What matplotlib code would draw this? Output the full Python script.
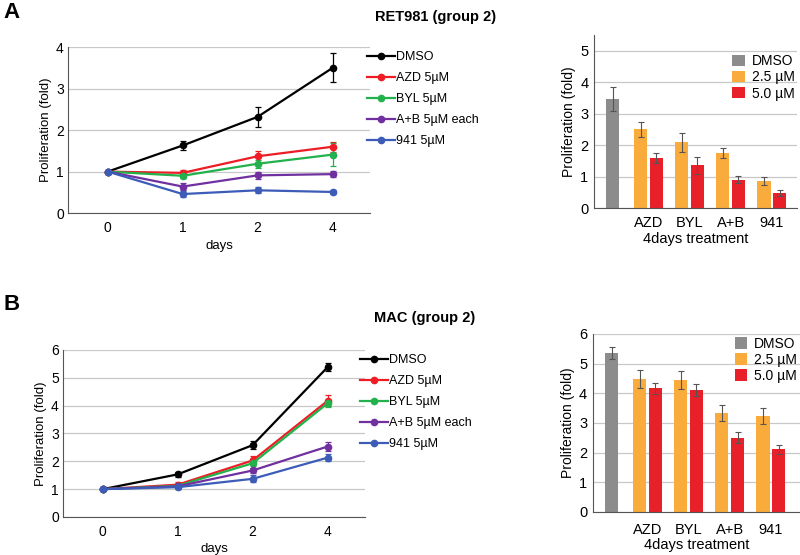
import matplotlib.pyplot as plt

plt.rcParams['font.family'] = ['Liberation Sans', 'DejaVu Sans']

# ---- data ----
day_labels = ["0", "1", "2", "4"]
series_names = ["DMSO", "AZD 5\u00b5M", "BYL 5\u00b5M", "A+B 5\u00b5M each", "941 5\u00b5M"]
series_colors = ["#000000", "#ee1c24", "#22b14c", "#7030a0", "#3c5cb8"]

# panel A (RET981)
a_mean = [
    [1.0, 1.63, 2.32, 3.50],
    [1.0, 0.97, 1.37, 1.60],
    [1.0, 0.90, 1.19, 1.41],
    [1.0, 0.64, 0.91, 0.94],
    [1.0, 0.46, 0.55, 0.51],
]
a_err = [
    [0.0, 0.12, 0.25, 0.35],
    [0.0, 0.08, 0.13, 0.12],
    [0.0, 0.06, 0.10, 0.27],
    [0.0, 0.08, 0.08, 0.08],
    [0.0, 0.07, 0.07, 0.05],
]

# panel B (MAC)
b_mean = [
    [1.0, 1.53, 2.58, 5.38],
    [1.0, 1.16, 2.03, 4.17],
    [1.0, 1.12, 1.93, 4.08],
    [1.0, 1.10, 1.67, 2.53],
    [1.0, 1.07, 1.37, 2.13],
]
b_err = [
    [0.0, 0.10, 0.15, 0.15],
    [0.0, 0.10, 0.15, 0.20],
    [0.0, 0.05, 0.10, 0.12],
    [0.0, 0.05, 0.08, 0.15],
    [0.0, 0.08, 0.12, 0.13],
]

# bar charts, 4 days
treatments = ["AZD", "BYL", "A+B", "941"]
bar_a_dmso, bar_a_dmso_err = 3.48, 0.38
bar_a_low = [2.50, 2.10, 1.75, 0.86]
bar_a_low_err = [0.25, 0.30, 0.17, 0.12]
bar_a_high = [1.60, 1.36, 0.91, 0.47]
bar_a_high_err = [0.15, 0.28, 0.12, 0.10]

bar_b_dmso, bar_b_dmso_err = 5.36, 0.20
bar_b_low = [4.48, 4.44, 3.34, 3.23]
bar_b_low_err = [0.30, 0.30, 0.26, 0.28]
bar_b_high = [4.17, 4.10, 2.50, 2.12]
bar_b_high_err = [0.18, 0.20, 0.18, 0.15]

GRID = "#c8c8c8"
SPINE = "#555555"


def line_panel(ax, means, errs, ymax, legend_pos):
    x = list(range(len(day_labels)))
    handles = []
    for name, col, m, e in zip(series_names, series_colors, means, errs):
        c = ax.errorbar(x, m, yerr=e, color=col, lw=1.6, marker="o", ms=4.5,
                        elinewidth=0.9, capsize=2, capthick=0.9, label=name)
        handles.append(c[0])
    ax.set_xlim(-0.53, 3.5)
    ax.set_ylim(0, ymax)
    ax.set_yticks(range(ymax + 1))
    ax.set_xticks(x)
    ax.set_xticklabels(day_labels)
    ax.tick_params(axis="x", length=0, labelsize=10, pad=6)
    ax.tick_params(axis="y", length=0, labelsize=10, pad=3)
    ax.grid(axis="y", color=GRID, lw=0.9)
    ax.set_axisbelow(True)
    for s in ["top", "right"]:
        ax.spines[s].set_visible(False)
    for s in ["left", "bottom"]:
        ax.spines[s].set_color(SPINE)
    ax.set_xlabel("days", fontsize=9.5, labelpad=3)
    ax.set_ylabel("Proliferation (fold)", fontsize=9.5, labelpad=3)
    fig.legend(handles, series_names, loc="upper left",
               bbox_to_anchor=legend_pos, frameon=False, fontsize=9,
               handlelength=2.2, handletextpad=0.1, labelspacing=0.72,
               borderpad=0, borderaxespad=0)


def bar_panel(ax, dmso, dmso_err, low, low_err, high, high_err, ymax, xmax, leg_y, xpad):
    gx = list(range(1, len(treatments) + 1))
    w = 0.32
    ekw = dict(ecolor="#555555", elinewidth=0.8, capsize=2.5, capthick=0.8)
    ax.bar([0.13], [dmso], w, yerr=[dmso_err], color="#8c8c8c", label="DMSO", error_kw=ekw)
    ax.bar([g - 0.19 for g in gx], low, w, yerr=low_err, color="#f9ab3c",
           label="2.5 \u00b5M", error_kw=ekw)
    ax.bar([g + 0.19 for g in gx], high, w, yerr=high_err, color="#e8202a",
           label="5.0 \u00b5M", error_kw=ekw)
    ax.set_xlim(-0.33, xmax)
    ax.set_ylim(0, ymax)
    ax.set_yticks(range(int(ymax) + 1))
    ax.set_xticks(gx)
    ax.set_xticklabels(treatments)
    ax.tick_params(axis="x", length=0, labelsize=10.5, pad=xpad)
    ax.tick_params(axis="y", length=0, labelsize=10.5, pad=4)
    ax.grid(axis="y", color=GRID, lw=0.9)
    ax.set_axisbelow(True)
    for s in ["top", "right"]:
        ax.spines[s].set_visible(False)
    for s in ["left", "bottom"]:
        ax.spines[s].set_color(SPINE)
    ax.set_xlabel("4days treatment", fontsize=10.5, labelpad=1)
    ax.set_ylabel("Proliferation (fold)", fontsize=10, labelpad=3)
    ax.legend(loc="upper right", bbox_to_anchor=(1.0, leg_y),
              frameon=False, fontsize=10, handlelength=0.9, handleheight=0.9,
              handletextpad=0.5, labelspacing=0.15, borderpad=0, borderaxespad=0.2)


fig = plt.figure(figsize=(8, 5.55), dpi=100)

ax1 = fig.add_axes([0.085, 0.616, 0.3775, 0.299])
line_panel(ax1, a_mean, a_err, 4, (367 / 800, 1 - 51 / 555))
ax2 = fig.add_axes([0.7425, 0.625, 0.254, 0.3117])
bar_panel(ax2, bar_a_dmso, bar_a_dmso_err, bar_a_low, bar_a_low_err,
          bar_a_high, bar_a_high_err, 5.5, 4.62, 0.905, 6)

ax3 = fig.add_axes([0.0788, 0.0685, 0.3775, 0.301])
line_panel(ax3, b_mean, b_err, 6, (360 / 800, 1 - 354 / 555))
ax4 = fig.add_axes([0.741, 0.0775, 0.259, 0.3207])
bar_panel(ax4, bar_b_dmso, bar_b_dmso_err, bar_b_low, bar_b_low_err,
          bar_b_high, bar_b_high_err, 6, 4.71, 1.0, 8)

fig.text(0.004, 0.978, "A", fontsize=16, fontweight="bold", va="center")
fig.text(0.004, 0.452, "B", fontsize=16, fontweight="bold", va="center")
fig.text(0.544, 0.970, "RET981 (group 2)", fontsize=10.5, fontweight="bold",
         ha="center", va="center")
fig.text(0.531, 0.427, "MAC (group 2)", fontsize=10.5, fontweight="bold",
         ha="center", va="center")

fig.savefig("out.png", dpi=100)
